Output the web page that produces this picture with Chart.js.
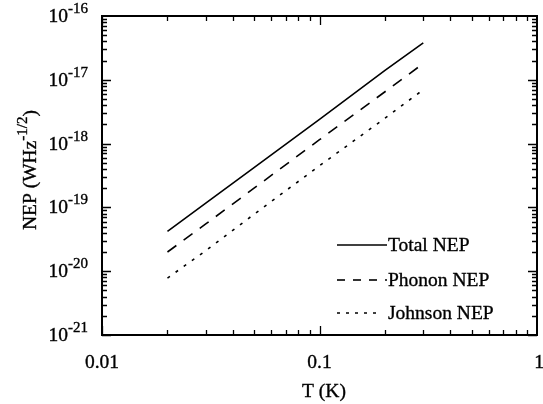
<!DOCTYPE html>
<html>
<head>
<meta charset="utf-8">
<script src="https://cdn.jsdelivr.net/npm/chart.js@4"></script>
<style>
  body { margin: 0; background: #fff; }
  #wrap { width: 543px; height: 404px; position: relative; }
</style>
</head>
<body>
<div id="wrap"><canvas id="myChart"></canvas></div>
<script>
// temperatures (K) and NEP values (W Hz^-1/2)
var temps = [0.02, 0.03, 0.05, 0.1, 0.2, 0.3];
var totalNEP = [4.2e-20, 1.17e-19, 4.2e-19, 2.4e-18, 1.4e-17, 3.8e-17];
var phononNEP = [2.0e-20, 5.5e-20, 2.0e-19, 1.15e-18, 6.5e-18, 1.8e-17];
var johnsonNEP = [7.8e-21, 2.1e-20, 7.8e-20, 4.5e-19, 2.5e-18, 7.0e-18];

var seriesNames = ['Total NEP', 'Phonon NEP', 'Johnson NEP'];
var xTicks = [0.01, 0.1, 1];
var xTickLabels = ['0.01', '0.1', '1'];
var yTicks = [1e-16, 1e-17, 1e-18, 1e-19, 1e-20, 1e-21];
var yTickExps = ['-16', '-17', '-18', '-19', '-20', '-21'];

var serif = '"Liberation Serif", "DejaVu Serif", serif';
var big = '19.5px ' + serif, small = '15px ' + serif;

function toPoints(ys) {
    var pts = [];
    for (var i = 0; i < temps.length; i++) {
        pts.push({x: temps[i], y: ys[i]});
    }
    return pts;
}

// text a little heavier, like the scanned original
function txt(ctx, s, x, y) {
    ctx.fillText(s, x, y);
    ctx.strokeText(s, x, y);
}

// frame, inward ticks, tick labels, titles and the legend box
var decorPlugin = {
    id: 'decor',
    afterDraw: function(chart) {
        var ctx = chart.ctx;
        var xs = chart.scales.x, ys = chart.scales.y;
        var a = chart.chartArea;
        ctx.save();
        ctx.strokeStyle = '#000';
        ctx.fillStyle = '#000';
        ctx.lineWidth = 2;
        ctx.strokeRect(a.left, a.top, a.right - a.left, a.bottom - a.top);

        ctx.lineWidth = 1.3;
        ctx.beginPath();
        // x ticks (bottom + top)
        for (var d = -2; d < 0; d++) {
            for (var m = 1; m <= 9; m++) {
                var v = m * Math.pow(10, d);
                var px = Math.round(xs.getPixelForValue(v)) + 0.5;
                var len = (m == 1) ? 9 : 5;
                ctx.moveTo(px, a.bottom); ctx.lineTo(px, a.bottom - len);
                ctx.moveTo(px, a.top); ctx.lineTo(px, a.top + len);
            }
        }
        // y ticks (left + right)
        for (var e = -21; e < -16; e++) {
            for (var m = 1; m <= 9; m++) {
                var v = m * Math.pow(10, e);
                var py = Math.round(ys.getPixelForValue(v)) + 0.5;
                var len = (m == 1) ? 9 : 5;
                ctx.moveTo(a.left, py); ctx.lineTo(a.left + len, py);
                ctx.moveTo(a.right, py); ctx.lineTo(a.right - len, py);
            }
        }
        ctx.stroke();

        ctx.lineWidth = 0.35;
        // x tick labels
        ctx.font = big;
        ctx.textAlign = 'center';
        ctx.textBaseline = 'middle';
        for (var i = 0; i < xTicks.length; i++) {
            var tx = xs.getPixelForValue(xTicks[i]);
            if (i == xTicks.length - 1) tx = Math.min(tx + 3, 539);
            txt(ctx, xTickLabels[i], tx, 363);
        }

        // y tick labels: 10 with superscript exponent
        for (var i = 0; i < yTicks.length; i++) {
            var ty = ys.getPixelForValue(yTicks[i]) + 5;
            ctx.font = small;
            ctx.textAlign = 'right';
            ctx.textBaseline = 'alphabetic';
            var ew = ctx.measureText(yTickExps[i]).width;
            txt(ctx, yTickExps[i], 88, ty - 8);
            ctx.font = big;
            txt(ctx, '10', 88 - ew, ty + 1);
        }

        // x title
        ctx.font = big;
        ctx.textAlign = 'center';
        ctx.textBaseline = 'middle';
        txt(ctx, 'T (K)', 324, 392);

        // y title, rotated
        ctx.save();
        ctx.translate(30, 170);
        ctx.rotate(-Math.PI / 2);
        ctx.textBaseline = 'alphabetic';
        ctx.textAlign = 'left';
        ctx.font = big;
        var p1 = 'NEP (WHz', p2 = '-1/2', p3 = ')';
        var w1 = ctx.measureText(p1).width;
        ctx.font = small;
        var w2 = ctx.measureText(p2).width;
        ctx.font = big;
        var w3 = ctx.measureText(p3).width;
        var sx = -(w1 + w2 + w3) / 2;
        txt(ctx, p1, sx, 6);
        ctx.font = small;
        txt(ctx, p2, sx + w1, -3);
        ctx.font = big;
        txt(ctx, p3, sx + w1 + w2, 6);
        ctx.restore();

        // legend
        var rows = [245, 280, 313];
        var x0 = 337;
        ctx.textAlign = 'left';
        ctx.textBaseline = 'middle';
        for (var i = 0; i < chart.data.datasets.length; i++) {
            var ds = chart.data.datasets[i];
            ctx.lineWidth = ds.borderWidth;
            ctx.setLineDash(ds.legendDash);
            ctx.beginPath();
            ctx.moveTo(x0, rows[i]);
            ctx.lineTo(ds.legendEnd, rows[i]);
            ctx.stroke();
            ctx.setLineDash([]);
            ctx.lineWidth = 0.35;
            ctx.font = big;
            txt(ctx, ds.label, 388, rows[i] + 1);
        }
        ctx.restore();
    }
};

var ctx = document.getElementById('myChart');
new Chart(ctx, {
    type: 'line',
    data: {
        datasets: [{
            label: seriesNames[0],
            data: toPoints(totalNEP),
            borderColor: '#000',
            borderWidth: 1.6,
            borderDash: [],
            legendDash: [],
            legendEnd: 387,
            pointRadius: 0,
            fill: false
        }, {
            label: seriesNames[1],
            data: toPoints(phononNEP),
            borderColor: '#000',
            borderWidth: 1.6,
            borderDash: [11, 9],
            legendDash: [8, 8],
            legendEnd: 387,
            pointRadius: 0,
            fill: false
        }, {
            label: seriesNames[2],
            data: toPoints(johnsonNEP),
            borderColor: '#000',
            borderWidth: 1.6,
            borderDash: [3, 7],
            legendDash: [3, 6],
            legendEnd: 382,
            pointRadius: 0,
            fill: false
        }]
    },
    options: {
        responsive: true,
        maintainAspectRatio: false,
        animation: false,
        layout: {
            padding: {left: 102, top: 16, right: 6, bottom: 69}
        },
        plugins: {
            legend: {display: false},
            tooltip: {enabled: false}
        },
        scales: {
            x: {
                type: 'logarithmic',
                min: 0.01,
                max: 1,
                display: false
            },
            y: {
                type: 'logarithmic',
                min: 1e-21,
                max: 1e-16,
                display: false
            }
        }
    },
    plugins: [decorPlugin]
});
</script>
</body>
</html>
